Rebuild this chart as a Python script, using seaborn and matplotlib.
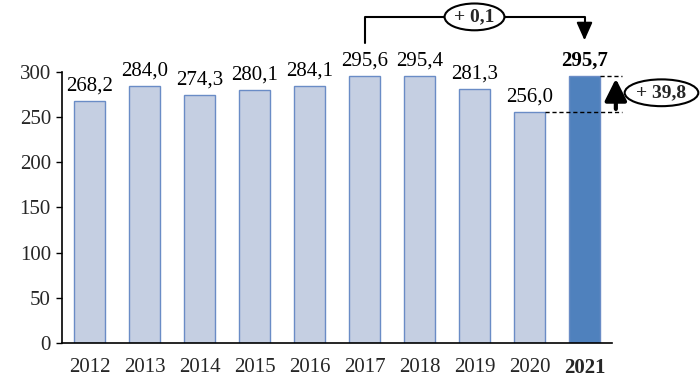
import matplotlib
matplotlib.use("Agg")
import matplotlib.pyplot as plt
import seaborn as sns
import pandas as pd

years = ["2012", "2013", "2014", "2015", "2016", "2017", "2018", "2019", "2020", "2021"]
values = [268.2, 284.0, 274.3, 280.1, 284.1, 295.6, 295.4, 281.3, 256.0, 295.7]
labels = ["268,2", "284,0", "274,3", "280,1", "284,1", "295,6", "295,4", "281,3", "256,0", "295,7"]
yticks = [0, 50, 100, 150, 200, 250, 300]
diff_prev_max = "+ 0,1"
diff_prev_year = "+ 39,8"

sns.set_theme(style="white")
plt.rcParams["font.family"] = ["Liberation Serif", "DejaVu Serif"]

df = pd.DataFrame({"year": years, "value": values,
                   "grp": ["old"] * (len(years) - 1) + ["new"]})

fig = plt.figure(figsize=(7, 3.83), dpi=100)
ax = fig.add_axes([62 / 700, 40 / 383, 550 / 700, 271 / 383])

sns.barplot(data=df, x="year", y="value", hue="grp",
            palette={"old": "#C5CFE2", "new": "#4F81BD"}, saturation=1,
            width=0.56, dodge=False, legend=False, ax=ax,
            edgecolor="#6A8CC6", linewidth=1)

FS = 15
bars_sorted = sorted(ax.patches, key=lambda p: p.get_x())
for i, (p, lab) in enumerate(zip(bars_sorted, labels)):
    ax.annotate(lab, (p.get_x() + p.get_width() / 2, p.get_height()),
                xytext=(0, 4), textcoords="offset points",
                ha="center", va="bottom", fontsize=FS,
                fontweight="bold" if i == len(labels) - 1 else "normal",
                color="black", annotation_clip=False)

ax.set_xlim(-0.5, len(years) - 0.5)
ax.set_ylim(0, 300)
ax.set_yticks(yticks)
ax.set_yticklabels([str(t) for t in yticks], fontsize=FS)
ax.set_xlabel("")
ax.set_ylabel("")
ax.tick_params(axis="y", which="both", left=True, length=4, width=1, color="black", pad=4)
ax.tick_params(axis="x", bottom=False, pad=5)
for i, t in enumerate(ax.get_xticklabels()):
    t.set_fontsize(FS)
    if i == len(years) - 1:
        t.set_fontweight("bold")

for s in ["top", "right"]:
    ax.spines[s].set_visible(False)
for s in ["left", "bottom"]:
    ax.spines[s].set_color("black")
    ax.spines[s].set_linewidth(1.2)

# bracket from 2017 to 2021
i17 = years.index("2017")
i21 = years.index("2021")
i20 = years.index("2020")
ax.plot([i17, i17, i21, i21], [332, 361, 361, 345], color="black", lw=1.5, clip_on=False)
ax.annotate("", xy=(i21, 332), xytext=(i21, 346),
            arrowprops=dict(arrowstyle="-|>,head_width=0.4,head_length=0.9",
                            color="black", lw=1.5), annotation_clip=False)
ax.text((i17 + i21) / 2, 361, diff_prev_max, ha="center", va="center",
        fontsize=14, fontweight="bold",
        bbox=dict(boxstyle="ellipse,pad=0.05", fc="white", ec="black", lw=1.5))

# dashed lines and vertical arrow
ax.plot([i21 + 0.28, i21 + 0.68], [values[i21], values[i21]], color="black",
        lw=1, ls=(0, (3, 2)), clip_on=False)
ax.plot([i20 + 0.28, i21 + 0.68], [values[i20], values[i20]], color="black",
        lw=1, ls=(0, (3, 2)), clip_on=False)
ax.annotate("", xy=(i21 + 0.57, values[i21]), xytext=(i21 + 0.57, values[i20]),
            arrowprops=dict(arrowstyle="-|>,head_width=0.55,head_length=1.1",
                            color="black", lw=3), annotation_clip=False)
ax.text(i21 + 1.40, 277, diff_prev_year, ha="center", va="center",
        fontsize=14, fontweight="bold",
        bbox=dict(boxstyle="ellipse,pad=0.05", fc="white", ec="black", lw=1.5))

fig.savefig("out.png", dpi=100)
